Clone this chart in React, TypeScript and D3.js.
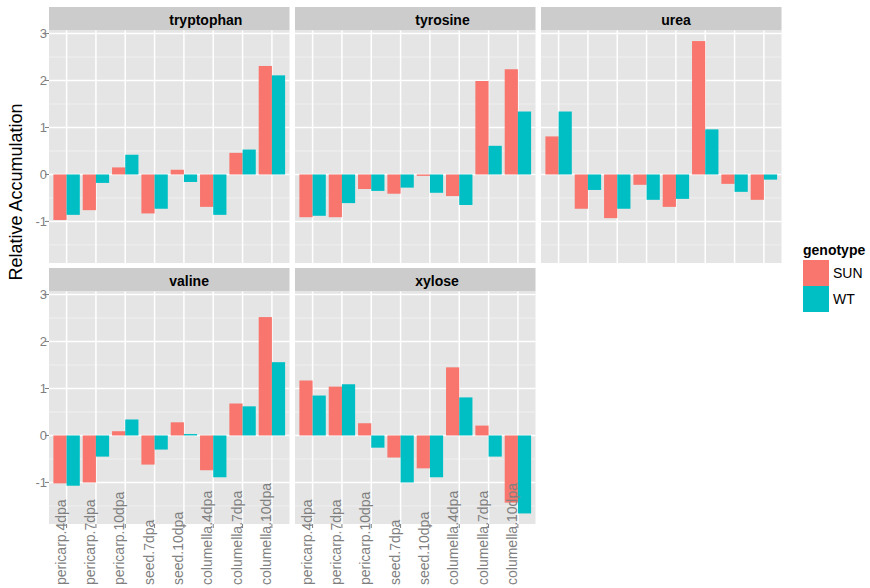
import React from "react";
import * as d3 from "d3";

const categories = [
  "pericarp.4dpa", "pericarp.7dpa", "pericarp.10dpa", "seed.7dpa",
  "seed.10dpa", "columella.4dpa", "columella.7dpa", "columella.10dpa",
];
const genotypes = ["SUN", "WT"];
const metabolites = ["tryptophan", "tyrosine", "urea", "valine", "xylose"];

const tryptophanSUN = [-0.97, -0.76, 0.15, -0.83, 0.10, -0.69, 0.46, 2.31];
const tryptophanWT = [-0.86, -0.18, 0.42, -0.73, -0.16, -0.86, 0.53, 2.11];
const tyrosineSUN = [-0.91, -0.91, -0.31, -0.41, -0.03, -0.46, 1.99, 2.24];
const tyrosineWT = [-0.88, -0.61, -0.35, -0.28, -0.39, -0.65, 0.61, 1.34];
const ureaSUN = [0.81, -0.73, -0.93, -0.22, -0.69, 2.84, -0.20, -0.54];
const ureaWT = [1.34, -0.33, -0.73, -0.54, -0.52, 0.96, -0.37, -0.11];
const valineSUN = [-1.02, -1.0, 0.09, -0.62, 0.28, -0.74, 0.68, 2.52];
const valineWT = [-1.07, -0.45, 0.34, -0.30, 0.03, -0.89, 0.62, 1.56];
const xyloseSUN = [1.17, 1.04, 0.26, -0.47, -0.70, 1.45, 0.21, -1.43];
const xyloseWT = [0.85, 1.09, -0.26, -1.0, -0.89, 0.81, -0.45, -1.66];

const yTicks = [-1, 0, 1, 2, 3];
const yMinor = [-1.5, -0.5, 0.5, 1.5, 2.5];

const seriesByMetabolite: Record<string, number[][]> = {
  tryptophan: [tryptophanSUN, tryptophanWT],
  tyrosine: [tyrosineSUN, tyrosineWT],
  urea: [ureaSUN, ureaWT],
  valine: [valineSUN, valineWT],
  xylose: [xyloseSUN, xyloseWT],
};

const colors = d3.scaleOrdinal<string, string>().domain(genotypes).range(["#F8766D", "#00BFC4"]);

const FONT = "'Liberation Sans', Arial, Helvetica, sans-serif";
const colLeft = 49;
const colStep = 246;
const panelW = 240.5;
const rowTops = [7, 268];
const stripH = 23.5;
const panelH = 232.5;
const axisGray = "#7F7F7F";

export default function App() {
  const allVals = metabolites.flatMap((m) => seriesByMetabolite[m].flat()).concat([0]);
  const [mn, mx] = d3.extent(allVals) as [number, number];
  const pad = (mx - mn) * 0.05;
  const y = d3.scaleLinear().domain([mn - pad, mx + pad]).range([panelH, 0]);
  const x = d3.scalePoint<string>().domain(categories).range([0, panelW]).padding(0.6);
  const step = x.step();
  const dodge = d3.scaleBand<string>().domain(genotypes).range([-0.45 * step, 0.45 * step]).padding(0);

  const panels = metabolites.map((m, i) => {
    const row = Math.floor(i / 3);
    const col = i % 3;
    const left = colLeft + col * colStep;
    const stripTop = rowTops[row];
    const top = stripTop + stripH;
    return { m, row, col, left, stripTop, top };
  });

  return (
    <svg width={870} height={588} style={{ position: "absolute", left: 0, top: 0 }} fontFamily={FONT}>
      <rect width={870} height={588} fill="#FFFFFF" />
      {panels.map((p) => {
        const series = seriesByMetabolite[p.m];
        return (
          <g key={p.m}>
            <rect x={p.left} y={p.stripTop} width={panelW} height={stripH} fill="#CCCCCC" />
            <text x={p.left + panelW / 2} y={p.stripTop + 18} fontSize={14} fontWeight="bold" fill="#000">
              {p.m}
            </text>
            <g transform={`translate(${p.left},${p.top})`}>
              <rect width={panelW} height={panelH} fill="#E5E5E5" />
              {yMinor.filter((v) => y(v) >= 0 && y(v) <= panelH).map((v) => (
                <line key={"mn" + v} x1={0} x2={panelW} y1={y(v)} y2={y(v)} stroke="#F2F2F2" strokeWidth={0.8} />
              ))}
              {yTicks.map((v) => (
                <line key={"mj" + v} x1={0} x2={panelW} y1={y(v)} y2={y(v)} stroke="#FFFFFF" strokeWidth={1.5} />
              ))}
              {categories.map((c) => (
                <line key={"vx" + c} x1={x(c)!} x2={x(c)!} y1={0} y2={panelH} stroke="#FFFFFF" strokeWidth={1.5} />
              ))}
              {genotypes.map((g, gi) =>
                categories.map((c, ci) => {
                  const v = series[gi][ci];
                  const y0 = y(0);
                  const yv = y(v);
                  return (
                    <rect
                      key={g + c}
                      x={x(c)! + dodge(g)!}
                      width={dodge.bandwidth()}
                      y={Math.min(y0, yv)}
                      height={Math.abs(yv - y0)}
                      fill={colors(g)}
                    />
                  );
                })
              )}
            </g>
            {p.col === 0 &&
              yTicks.map((v) => (
                <g key={"yt" + v}>
                  <line x1={p.left - 4} x2={p.left} y1={p.top + y(v)} y2={p.top + y(v)} stroke={axisGray} strokeWidth={1} />
                  <text x={p.left - 2} y={p.top + y(v)} dy="0.35em" textAnchor="end" fontSize={13} fill={axisGray}>
                    {v}
                  </text>
                </g>
              ))}
          </g>
        );
      })}
      {panels
        .filter((p) => p.row === 1)
        .map((p) => (
          <g key={"xa" + p.m}>
            {categories.map((c) => {
              const gx = p.left + x(c)!;
              return (
                <g key={c}>
                  <line x1={gx} x2={gx} y1={p.top + panelH} y2={p.top + panelH + 4} stroke={axisGray} strokeWidth={1} />
                  <text
                    transform={`translate(${gx},585) rotate(-90)`}
                    dy={-1}
                    textAnchor="start"
                    fontSize={14}
                    fill={axisGray}
                  >
                    {c}
                  </text>
                </g>
              );
            })}
          </g>
        ))}
      <text transform="translate(22,192) rotate(-90)" textAnchor="middle" fontSize={18} fill="#000">
        Relative Accumulation
      </text>
      <text x={803} y={255} fontSize={14} fontWeight="bold" fill="#000">genotype</text>
      {genotypes.map((g, i) => (
        <g key={"lg" + g}>
          <rect x={803} y={260 + i * 26} width={26} height={26} fill={colors(g)} />
          <text x={833} y={273 + i * 26} dy="0.35em" fontSize={14} fill="#000">{g}</text>
        </g>
      ))}
    </svg>
  );
}
